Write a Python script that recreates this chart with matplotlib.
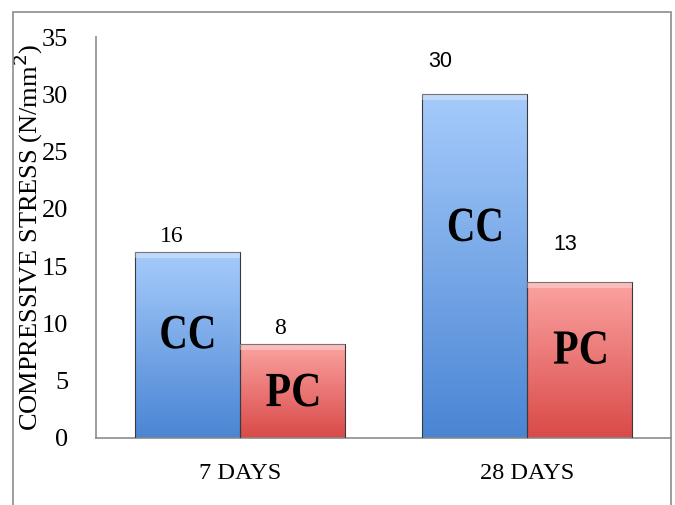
import numpy as np
import matplotlib.pyplot as plt
from matplotlib.patches import Rectangle, PathPatch
from matplotlib.colors import LinearSegmentedColormap
from matplotlib.textpath import TextPath
from matplotlib.font_manager import FontProperties
from matplotlib.transforms import Affine2D

# compressive strength of the two mixes at 7 and 28 days
ages = ['7 DAYS', '28 DAYS']
cc_strength = [16.2, 30.0]
pc_strength = [8.2, 13.6]
mixes = ['CC', 'PC']

plt.rcParams['font.family'] = ['Liberation Serif', 'DejaVu Serif']

fig = plt.figure(figsize=(6.75, 5.05), dpi=100)
ax = fig.add_axes([0.1422, 0.1327, 0.852, 0.794])

# chart-area frame around everything
fig.patches.append(Rectangle((13 / 675, -0.05), (671 - 13) / 675, 1 - 12 / 505 + 0.05,
                             transform=fig.transFigure, fill=False,
                             edgecolor='#8c8c8c', lw=1.2))

ax.set_xlim(-0.5, 1.5)
ax.set_ylim(0, 35)

width = 0.365
x = np.arange(len(ages))
blue = LinearSegmentedColormap.from_list('b', ['#4a85d4', '#a6cbfb'])
red = LinearSegmentedColormap.from_list('r', ['#d94a48', '#fba3a1'])
grad = np.linspace(0, 1, 256).reshape(-1, 1)


def gradient_bar(xc, h, cmap):
    x0 = xc - width / 2
    im = ax.imshow(grad, cmap=cmap, origin='lower', aspect='auto',
                   extent=[x0, x0 + width, 0, h], zorder=2, interpolation='bicubic')
    rect = Rectangle((x0, 0), width, h, fill=False, edgecolor='#3a3a3a',
                     lw=0.8, zorder=3)
    ax.add_patch(rect)
    im.set_clip_path(rect)
    # soft bevel along the top
    ax.add_patch(Rectangle((x0, h - 0.5), width, 0.5, facecolor='white',
                           alpha=0.3, lw=0, zorder=3))


for i in range(len(ages)):
    gradient_bar(x[i] - width / 2, cc_strength[i], blue)
    gradient_bar(x[i] + width / 2, pc_strength[i], red)

# value labels above bars
values = [cc_strength[0], pc_strength[0], cc_strength[1], pc_strength[1]]
centers = [x[0] - width / 2, x[0] + width / 2, x[1] - width / 2, x[1] + width / 2]
dx = [-0.054, -0.043, -0.12, -0.049]
dy = [1.4, 1.4, 2.9, 3.3]
fams = [['Liberation Serif'], ['Liberation Serif'], ['Liberation Sans'], ['Liberation Sans']]
sizes = [17, 17, 15.5, 15.5]
for v, c, ox, oy, f, s in zip(values, centers, dx, dy, fams, sizes):
    ax.text(c + ox, v + oy, f'{int(v)}', ha='center', va='center',
            fontsize=s, family=f, zorder=4)

# mix names inside the bars, drawn as narrow bold glyphs (52 x 33 px)
bold = FontProperties(family='Liberation Serif', weight='bold')
names = [mixes[0], mixes[1], mixes[0], mixes[1]]
name_frac = [0.57, 0.51, 0.62, 0.58]
for n, v, c, fr in zip(names, values, centers, name_frac):
    tp = TextPath((0, 0), n, size=1, prop=bold)
    bb = tp.get_extents()
    px, py = ax.transData.transform((c, v * fr))
    tr = (Affine2D().translate(-bb.x0 - bb.width / 2, -bb.y0 - bb.height / 2)
          .scale(52 / bb.width, 33 / bb.height).translate(px, py))
    ax.add_patch(PathPatch(tp, transform=tr, facecolor='black', lw=0, zorder=4))

ax.set_yticks(range(0, 36, 5))
ax.set_xticks(x)
ax.set_xticklabels(ages)
ax.tick_params(axis='y', length=0, pad=20, labelsize=19)
ax.tick_params(axis='x', length=0, pad=18, labelsize=17.5)
for s in ['top', 'right']:
    ax.spines[s].set_visible(False)
for s in ['left', 'bottom']:
    ax.spines[s].set_color('#8c8c8c')
    ax.spines[s].set_linewidth(1.2)

ax.set_ylabel('COMPRESSIVE STRESS (N/mm$^{2}$)', fontsize=19)
ax.yaxis.set_label_coords(-0.088, 0.5)

fig.savefig('out.png', dpi=100)
